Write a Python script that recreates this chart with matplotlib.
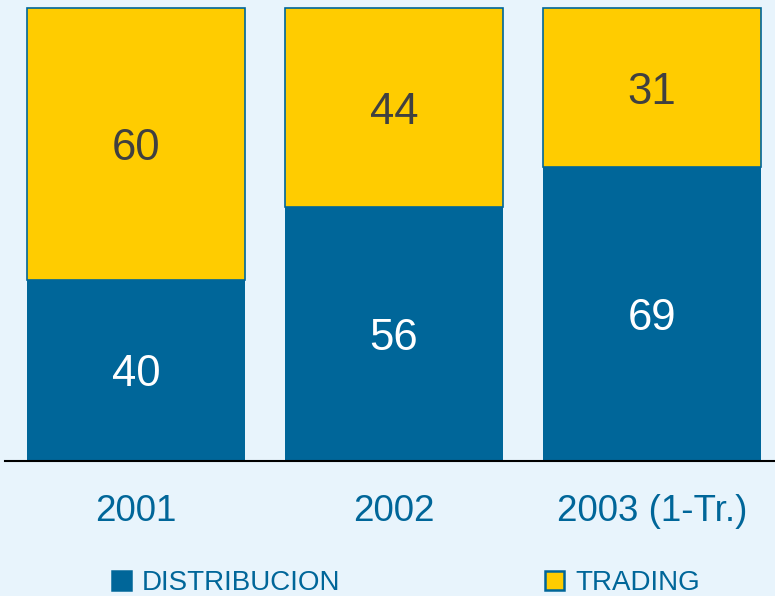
import numpy as np
from matplotlib import pyplot as plt

plt.rcParams['font.family'] = ['Liberation Sans', 'DejaVu Sans']

years = ['2001', '2002', '2003 (1-Tr.)']
# printed values
distribucion = [40, 56, 69]
trading = [60, 44, 31]
# bar heights as drawn in the original (third bar is drawn at about 65/35)
distribucion_drawn = [40, 56, 65]
trading_drawn = [60, 44, 35]

blue = '#006699'
yellow = '#FFCC00'
bg = '#E8F4FC'

fig = plt.figure(figsize=(7.75, 5.96), dpi=100, facecolor=bg)
ax = fig.add_axes([5 / 775, 1 - 460.5 / 596, 770 / 775, 460.5 / 596])
ax.set_facecolor(bg)

x = np.arange(len(years))
w = 218 / 258
b1 = ax.bar(x, distribucion_drawn, width=w, color=blue, label='DISTRIBUCION')
b2 = ax.bar(x, trading_drawn, width=w, bottom=distribucion_drawn, color=yellow,
            edgecolor=blue, linewidth=1.2, label='TRADING')

lab1 = ax.bar_label(b1, labels=[str(v) for v in distribucion], label_type='center',
                    color='white', fontsize=31.5)
lab2 = ax.bar_label(b2, labels=[str(v) for v in trading], label_type='center',
                    color='#404040', fontsize=31.5)
# numbers sit a little below the middle of each segment in the original
for t in lab1 + lab2:
    t.xyann = (0, -3.5)

ax.set_xlim(-131 / 258, 2 + 123 / 258)
ax.set_ylim(0, 100 + 8.3 / 4.522)
ax.set_xticks(x, years, color=blue, fontsize=26.5)
ax.tick_params(axis='x', length=0, pad=24)
ax.set_yticks([])
for s in ['top', 'left', 'right']:
    ax.spines[s].set_visible(False)
ax.spines['bottom'].set_linewidth(1.5)
ax.spines['bottom'].set_color('black')

# legend, one entry at a time so they sit under the matching columns
for bars, xpos in [(b1, 112 / 775), (b2, 545 / 775)]:
    leg = fig.legend(handles=[bars], loc='lower left', bbox_to_anchor=(xpos, 0.0),
                     frameon=False, fontsize=20, labelcolor=blue,
                     handlelength=0.68, handleheight=0.68, handletextpad=0.4,
                     borderpad=0, borderaxespad=0)
    for h in leg.legend_handles:
        h.set_edgecolor(blue)
        h.set_linewidth(1.8)

fig.savefig('out.png', dpi=100, facecolor=bg)
